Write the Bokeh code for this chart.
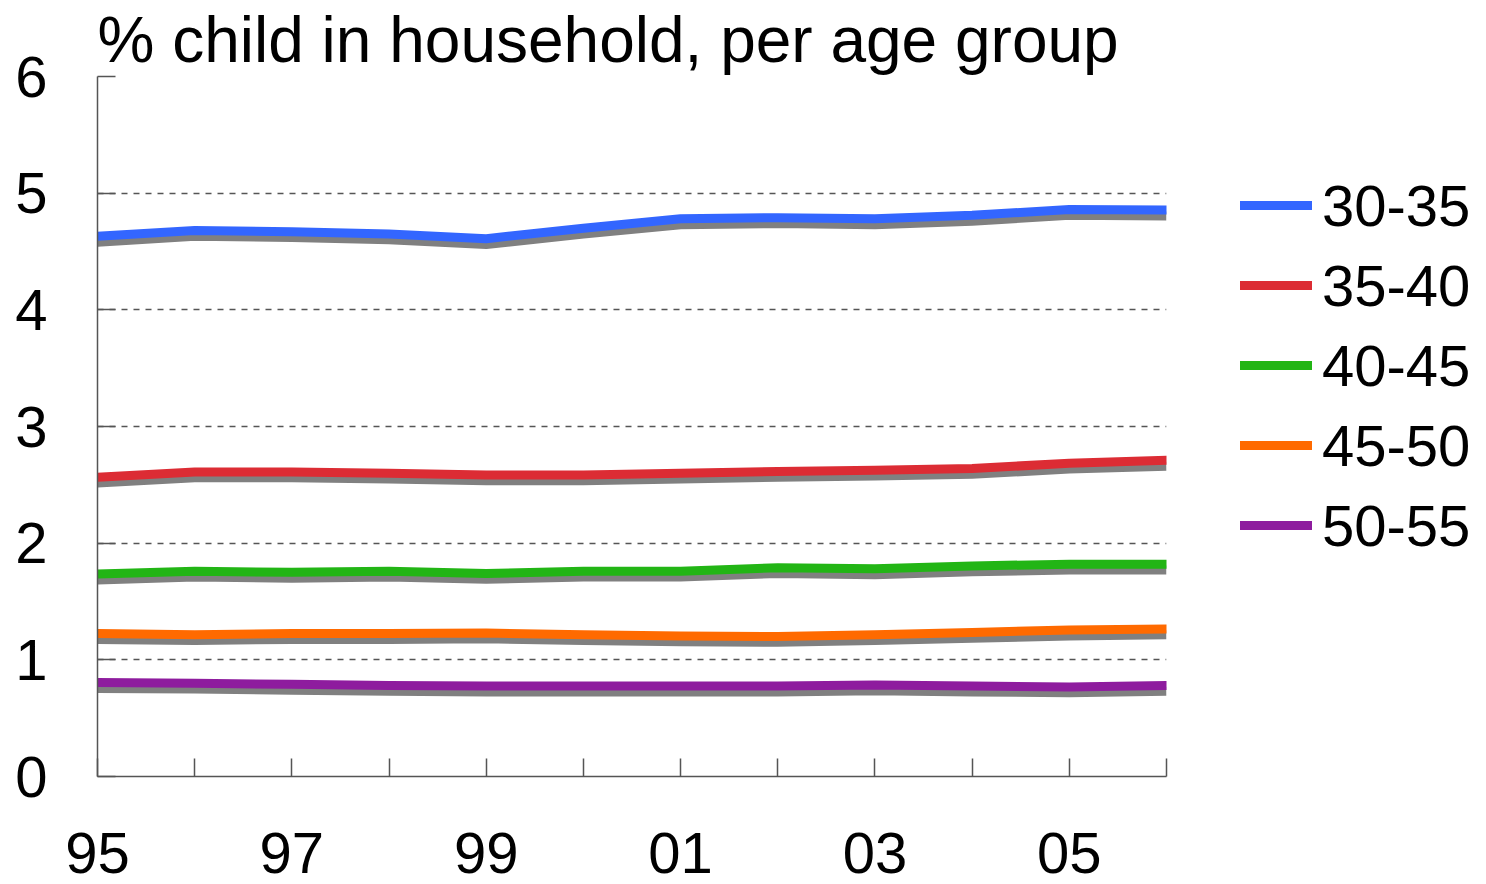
from bokeh.plotting import figure
from bokeh.layouts import row
from bokeh.models import Range1d, FixedTicker, Legend, LegendItem
from bokeh.embed import file_html
from bokeh.resources import INLINE

# ---------------- data ----------------
years = [1995, 1996, 1997, 1998, 1999, 2000, 2001, 2002, 2003, 2004, 2005, 2006]
x_label_years = [1995, 1997, 1999, 2001, 2003, 2005]
x_labels = ["95", "97", "99", "01", "03", "05"]
y_ticks = [0, 1, 2, 3, 4, 5, 6]
series_names = ["30-35", "35-40", "40-45", "45-50", "50-55"]

s_30_35 = [4.63, 4.68, 4.67, 4.65, 4.61, 4.70, 4.78, 4.79, 4.78, 4.81, 4.86, 4.855]
s_35_40 = [2.565, 2.61, 2.61, 2.60, 2.585, 2.585, 2.60, 2.615, 2.625, 2.64, 2.685, 2.71]
s_40_45 = [1.735, 1.76, 1.75, 1.76, 1.74, 1.76, 1.76, 1.79, 1.78, 1.805, 1.82, 1.82]
s_45_50 = [1.225, 1.215, 1.225, 1.225, 1.23, 1.215, 1.205, 1.20, 1.215, 1.235, 1.255, 1.265]
s_50_55 = [0.805, 0.80, 0.79, 0.78, 0.775, 0.775, 0.775, 0.775, 0.785, 0.775, 0.767, 0.78]

title_text = "% child in household, per age group"

# ---------------- style ----------------
colors = ["#3366FF", "#DC2C34", "#22B515", "#FF6A00", "#8E1C9E"]
shadow_color = "#808080"
shadow_drop = 0.05
FONT = "Liberation Sans"

series = [s_30_35, s_35_40, s_40_45, s_45_50, s_50_55]

p = figure(width=1176, height=884,
           x_range=Range1d(1995, 2006), y_range=Range1d(0, 6),
           output_backend="svg", toolbar_location=None,
           min_border_left=97, min_border_right=10,
           min_border_top=76, min_border_bottom=108)
p.outline_line_color = None
p.background_fill_color = "white"
p.border_fill_color = "white"

# title
p.title.text = title_text
p.title.text_font = FONT
p.title.text_font_size = "64px"
p.title.text_font_style = "normal"
p.title.text_color = "black"
p.title.align = "left"
p.title.standoff = 1

# axes
ax_col = "#555555"
p.xaxis.ticker = FixedTicker(ticks=x_label_years,
                             minor_ticks=[y for y in years if y not in x_label_years])
p.xaxis.major_label_overrides = {y: t for y, t in zip(x_label_years, x_labels)}
p.xaxis.major_label_text_font = FONT
p.xaxis.major_label_text_font_size = "58px"
p.xaxis.major_label_text_color = "black"
p.xaxis.major_label_standoff = 56
p.xaxis.major_tick_in = 18
p.xaxis.major_tick_out = 0
p.xaxis.minor_tick_in = 18
p.xaxis.minor_tick_out = 0
p.xaxis.axis_line_color = ax_col
p.xaxis.axis_line_width = 1.5
p.xaxis.major_tick_line_color = ax_col
p.xaxis.major_tick_line_width = 1.5
p.xaxis.minor_tick_line_color = ax_col
p.xaxis.minor_tick_line_width = 1.5

p.yaxis.ticker = FixedTicker(ticks=y_ticks)
p.yaxis.major_label_text_font = FONT
p.yaxis.major_label_text_font_size = "58px"
p.yaxis.major_label_text_color = "black"
p.yaxis.major_label_standoff = 50
p.yaxis.major_tick_in = 18
p.yaxis.major_tick_out = 0
p.yaxis.minor_tick_line_color = None
p.yaxis.axis_line_color = ax_col
p.yaxis.axis_line_width = 1.5
p.yaxis.major_tick_line_color = ax_col
p.yaxis.major_tick_line_width = 1.5

p.xgrid.visible = False
p.ygrid.ticker = FixedTicker(ticks=y_ticks)
p.ygrid.grid_line_color = "#555555"
p.ygrid.grid_line_dash = "6 6"
p.ygrid.grid_line_width = 1.5

# shadows
for s in series:
    p.line(years, [v - shadow_drop for v in s], line_width=9,
           line_color=shadow_color, line_join="round")

# colored lines
for s, c in zip(series, colors):
    p.line(years, s, line_width=9, line_color=c,
           line_cap="round", line_join="round")

# ---------------- legend panel ----------------
lg = figure(width=300, height=884, x_range=Range1d(0, 300), y_range=Range1d(0, 700),
            output_backend="svg", toolbar_location=None,
            x_axis_type=None, y_axis_type=None,
            min_border_left=0, min_border_right=0,
            min_border_top=76, min_border_bottom=108)
lg.outline_line_color = None
lg.xgrid.visible = False
lg.ygrid.visible = False
lg.background_fill_color = "white"
lg.border_fill_color = "white"

# legend proxies: same series, lying outside this panel's visible range
items = []
for name, s, c in zip(series_names, series, colors):
    r = lg.line(years, s, line_width=9, line_color=c,
                line_cap="round", line_join="round")
    items.append(LegendItem(label=name, renderers=[r]))

legend = Legend(items=items, location=(64, 211),
                glyph_width=72, glyph_height=80, label_height=80,
                spacing=0, padding=0, margin=0, label_standoff=10,
                label_text_font=FONT, label_text_font_size="58px",
                label_text_color="black",
                border_line_color=None, background_fill_alpha=0)
lg.add_layout(legend)

layout = row(p, lg)
open("out.html", "w").write(file_html(layout, INLINE))
